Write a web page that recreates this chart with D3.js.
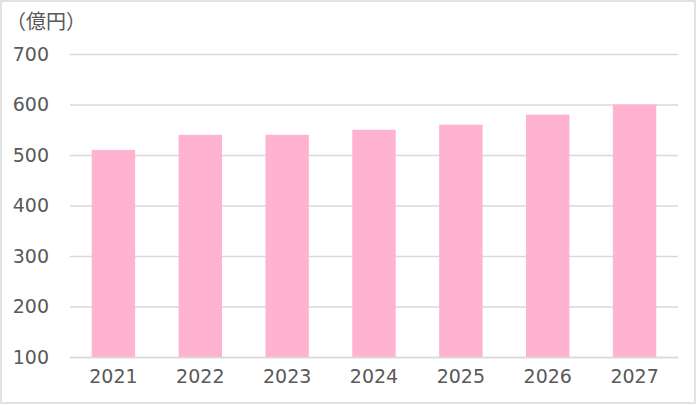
<!DOCTYPE html>
<html><head><meta charset="utf-8">
<script src="https://cdn.jsdelivr.net/npm/d3@7"></script>
<style>html,body{margin:0;padding:0;background:#fff;}svg{display:block;}</style>
</head><body>
<script>
const categories = ["2021","2022","2023","2024","2025","2026","2027"];
const values = [510, 540, 540, 550, 560, 580, 600];
const yTicks = [100, 200, 300, 400, 500, 600, 700];
const unitLabel = "（億円）";

const W = 700, H = 405;
const svg = d3.select("body").append("svg").attr("width", W).attr("height", H);
const font = "'DejaVu Sans','Noto Sans',sans-serif";
const cjk = "'Noto Sans CJK JP',sans-serif";

svg.append("rect").attr("x", 1).attr("y", 1).attr("width", 694).attr("height", 402)
  .attr("fill", "#fff").attr("stroke", "#d9d9d9").attr("stroke-width", 1.5);

const x = d3.scaleBand().domain(categories).range([70, 678]).paddingInner(0.5).paddingOuter(0.25);
const y = d3.scaleLinear().domain([100, 700]).range([357, 54]);

const yAxis = svg.append("g").attr("transform", "translate(70,0)")
  .call(d3.axisLeft(y).tickValues(yTicks).tickSize(-608).tickPadding(21).tickFormat(d3.format("d")));
yAxis.select(".domain").remove();
yAxis.selectAll(".tick line").attr("stroke", "#d9d9d9").attr("stroke-width", 1.3);
yAxis.selectAll(".tick text").attr("fill", "#595959").attr("font-size", 19).attr("font-family", font);

svg.selectAll("rect.bar").data(values).join("rect").attr("class", "bar")
  .attr("x", (d, i) => x(categories[i])).attr("width", x.bandwidth())
  .attr("y", d => y(d)).attr("height", d => y(100) - y(d))
  .attr("fill", "#ffb3d1");

const xAxis = svg.append("g").attr("transform", "translate(0,357)")
  .call(d3.axisBottom(x).tickSize(0).tickPadding(13));
xAxis.select(".domain").attr("stroke", "#d9d9d9").attr("stroke-width", 1.3);
xAxis.selectAll(".tick text").attr("fill", "#595959").attr("font-size", 19).attr("font-family", font);

svg.append("text").attr("x", 6).attr("y", 29).text(unitLabel)
  .attr("fill", "#595959").attr("font-size", 20).attr("font-family", cjk);
</script>
</body></html>
